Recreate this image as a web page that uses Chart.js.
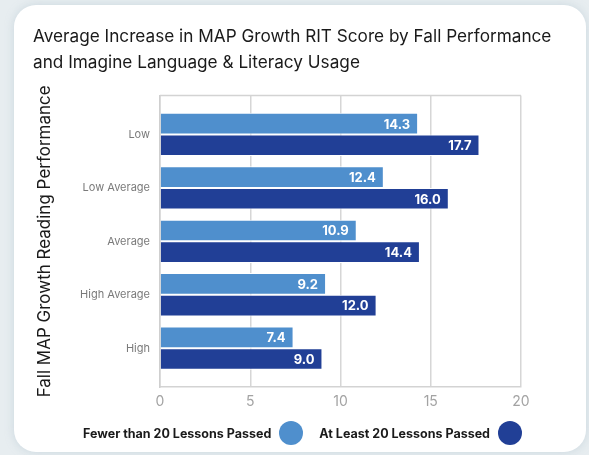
<!DOCTYPE html>
<html>
<head>
<meta charset="utf-8">
<script src="https://cdn.jsdelivr.net/npm/chart.js@4.4.1/dist/chart.umd.min.js"></script>
<style>
  html, body { margin: 0; padding: 0; }
  body { width: 589px; height: 455px; background: #e7edf0; position: relative; overflow: hidden; font-family: Inter, 'Noto Sans', sans-serif; }
  .card { position: absolute; left: 14px; top: 5px; width: 572px; height: 447px; background: #fff; border-radius: 22px; box-shadow: 0 0 10px rgba(150, 175, 190, 0.35); }
  .chart-wrap { position: absolute; left: 0; top: 0; width: 589px; height: 455px; }
  .legend { position: absolute; left: 83px; top: 421px; display: flex; align-items: center; font-size: 12.5px; font-weight: 700; color: #1a1a1a; }
  .legend__dot { width: 24px; height: 24px; border-radius: 50%; display: inline-block; margin: 0 16px 0 8px; }
</style>
</head>
<body>
<div class="card"></div>
<div class="chart-wrap"><canvas id="chart" width="589" height="455"></canvas></div>
<div class="legend">
  <span>Fewer than 20 Lessons Passed</span><span class="legend__dot" style="background:#4f8fcd"></span>
  <span>At Least 20 Lessons Passed</span><span class="legend__dot" style="background:#213f96"></span>
</div>
<script>
const categories = ['Low', 'Low Average', 'Average', 'High Average', 'High'];
const fewerThan20 = [14.3, 12.4, 10.9, 9.2, 7.4];
const atLeast20 = [17.7, 16.0, 14.4, 12.0, 9.0];
const seriesNames = ['Fewer than 20 Lessons Passed', 'At Least 20 Lessons Passed'];
const xTicks = [0, 5, 10, 15, 20];

const LIGHT = '#4f8fcd';
const DARK = '#213f96';
const FONT = 'Inter, "Noto Sans", sans-serif';

// category index on a linear axis, so the groups can sit in from the frame
const toPoints = values => values.map((v, i) => ({ x: v, y: i }));

// frame around the plot area (top edge is not drawn by the axes)
const framePlugin = {
  id: 'frame',
  beforeDatasetsDraw(chart) {
    const { ctx, chartArea: a } = chart;
    ctx.save();
    ctx.strokeStyle = '#d3d3d3';
    ctx.lineWidth = 1.5;
    ctx.beginPath();
    ctx.moveTo(a.left, a.top);
    ctx.lineTo(a.right, a.top);
    ctx.stroke();
    ctx.restore();
  }
};

// value labels at the end of each bar
const valueLabels = {
  id: 'valueLabels',
  afterDatasetsDraw(chart) {
    const { ctx } = chart;
    ctx.save();
    ctx.fillStyle = '#ffffff';
    ctx.font = `700 13px ${FONT}`;
    ctx.textAlign = 'right';
    ctx.textBaseline = 'middle';
    chart.data.datasets.forEach((ds, i) => {
      chart.getDatasetMeta(i).data.forEach((bar, j) => {
        ctx.fillText(Number(ds.data[j].x).toFixed(1), bar.x - 8, bar.y + 1);
      });
    });
    ctx.restore();
  }
};

new Chart(document.getElementById('chart'), {
  type: 'bar',
  data: {
    datasets: [
      { label: seriesNames[0], data: toPoints(fewerThan20), backgroundColor: LIGHT, borderColor: '#ffffff', borderWidth: 1, borderSkipped: 'start' },
      { label: seriesNames[1], data: toPoints(atLeast20), backgroundColor: DARK, borderColor: '#ffffff', borderWidth: 1, borderSkipped: 'start' }
    ]
  },
  options: {
    indexAxis: 'y',
    responsive: false,
    animation: false,
    categoryPercentage: 0.81,
    barPercentage: 1,
    layout: { padding: { top: 24, left: 33, right: 20, bottom: 39 } },
    plugins: {
      legend: { display: false },
      tooltip: { enabled: false },
      title: {
        display: true,
        align: 'start',
        text: ['Average Increase in MAP Growth RIT Score by Fall Performance', 'and Imagine Language & Literacy Usage'],
        color: '#1a1a1a',
        font: { family: FONT, size: 17.2, weight: '400', lineHeight: 1.51 },
        padding: { top: 0, bottom: 19.5 }
      }
    },
    scales: {
      x: {
        min: 0,
        max: 20,
        afterBuildTicks: scale => { scale.ticks = xTicks.map(v => ({ value: v })); },
        ticks: { color: '#a3a3a3', font: { family: FONT, size: 14 }, padding: 6 },
        grid: { color: '#d6d6d6', lineWidth: 1.5, drawTicks: false },
        border: { display: true, color: '#d3d3d3', width: 1.5 }
      },
      y: {
        type: 'linear',
        reverse: true,
        offset: false,
        min: -0.73,
        max: categories.length - 1 + 0.73,
        afterBuildTicks: scale => { scale.ticks = categories.map((c, i) => ({ value: i })); },
        afterFit: scale => { scale.width = 127; },
        ticks: { color: '#7a7a7a', font: { family: FONT, size: 11 }, padding: 10, callback: value => categories[value] },
        grid: { display: false, drawTicks: false, offset: false },
        border: { display: true, color: '#cfcfcf', width: 1.5 },
        title: {
          display: true,
          text: 'Fall MAP Growth Reading Performance',
          color: '#1a1a1a',
          font: { family: FONT, size: 17, lineHeight: 1.2 },
          padding: { top: 2, bottom: 0 }
        }
      },
      // empty spacer axis on the right so the plot ends where the reference does
      spacer: {
        type: 'linear',
        axis: 'y',
        position: 'right',
        ticks: { display: false },
        grid: { display: false, drawTicks: false },
        border: { display: false },
        afterFit: scale => { scale.width = 48; }
      }
    }
  },
  plugins: [framePlugin, valueLabels]
});
</script>
</body>
</html>
